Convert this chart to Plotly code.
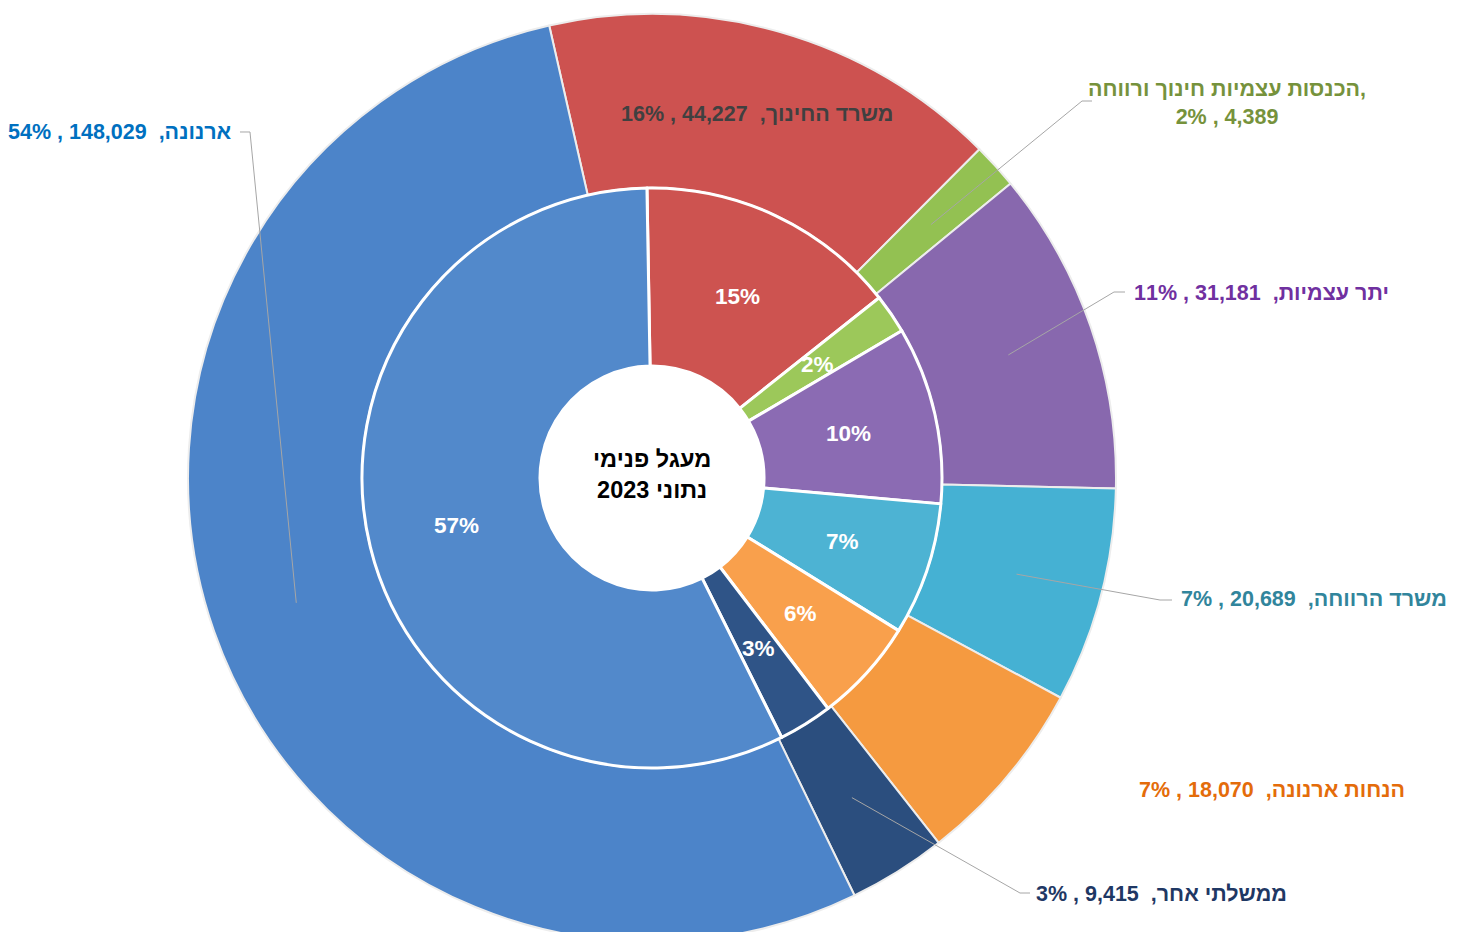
import math
import plotly.graph_objects as go

W, H = 1460, 940
OFF = 8  # page body margin: the figure is drawn 8px right/down of the window origin

# ---------------- data ----------------
outer_names = ["משרד החינוך", "הכנסות עצמיות חינוך ורווחה", "יתר עצמיות",
               "משרד הרווחה", "הנחות ארנונה", "ממשלתי אחר", "ארנונה"]
outer_values = [44227, 4389, 31181, 20689, 18070, 9415, 148029]

inner_names = outer_names
inner_pct = [14.6, 2.2, 9.9, 7.4, 5.8, 3.0, 57.1]

center_title = "מעגל פנימי<br>נתוני 2023"

# ---------------- styles ----------------
outer_colors = ["#CD5250", "#93C152", "#8868AE", "#45B1D3", "#F59A40", "#2B4E7E", "#4C84C9"]
inner_colors = ["#CD5350", "#9CC85A", "#8B6BB3", "#4DB3D3", "#F9A04C", "#2F5487", "#5289CB"]
label_colors = ["#404040", "#76923C", "#7030A0", "#31859C", "#E46C0A", "#1F3864", "#0070C0"]
FONT = "Liberation Sans, Arial, DejaVu Sans, sans-serif"

CX, CY = 652, 478          # pie centre (window px)
R_OUT = 464                 # outer ring radius (px)
R_IN = 290                  # inner pie radius (px)
R_HOLE = 112                # inner hole radius (px)
ROT_OUT = -12.8
ROT_IN = -1.0


def dom(r):
    cx, cy = CX - OFF, CY - OFF
    return dict(x=[(cx - r) / W, (cx + r) / W],
                y=[1 - (cy + r) / H, 1 - (cy - r) / H])


def px(x, y):
    return (x - OFF) / W, 1 - (y - OFF) / H


def mids(values, rot):
    tot = sum(values)
    out, acc = [], rot
    for v in values:
        span = v / tot * 360
        out.append(acc + span / 2)
        acc += span
    return out


def polar(angle_deg, r):
    a = math.radians(angle_deg)
    return CX + r * math.sin(a), CY - r * math.cos(a)


fig = go.Figure()

fig.add_trace(go.Pie(
    labels=outer_names, values=outer_values, sort=False, direction="clockwise",
    rotation=ROT_OUT, hole=R_IN / R_OUT, domain=dom(R_OUT),
    marker=dict(colors=outer_colors, line=dict(color="#EDEDED", width=2)),
    textinfo="none", showlegend=False, hoverinfo="label+value+percent",
))

fig.add_trace(go.Pie(
    labels=inner_names, values=inner_pct, sort=False, direction="clockwise",
    rotation=ROT_IN, hole=R_HOLE / R_IN, domain=dom(R_IN),
    marker=dict(colors=inner_colors, line=dict(color="white", width=3)),
    textinfo="none", showlegend=False, hoverinfo="label+percent",
))

annotations = []
shapes = []

# centre caption
cx_, cy_ = px(CX, CY - 4)
annotations.append(dict(
    x=cx_, y=cy_, xref="paper", yref="paper", text="<b>" + center_title + "</b>",
    showarrow=False, xanchor="center", yanchor="middle", align="center",
    font=dict(size=23.5, color="black", family=FONT),
))

# ---------------- inner percentage labels ----------------
in_tot = sum(inner_pct)
for ang, p in zip(mids(inner_pct, ROT_IN), inner_pct):
    x, y = polar(ang, (R_HOLE + R_IN) / 2)
    ax_, ay_ = px(x, y)
    annotations.append(dict(
        x=ax_, y=ay_, xref="paper", yref="paper",
        text=f"<b>{round(p / in_tot * 100)}%</b>", showarrow=False,
        xanchor="center", yanchor="middle",
        font=dict(size=22.5, color="white", family=FONT),
    ))

# ---------------- outer labels ----------------
total = sum(outer_values)
pcts = [round(v / total * 100) for v in outer_values]
out_mids = mids(outer_values, ROT_OUT)
R_MID = (R_IN + R_OUT) / 2

# label placement: (x, y, xanchor, elbow points)
placement = {
    1: (1227, 103, "center", [(1092, 101), (1082, 101)]),
    2: (1132, 293, "left", [(1125, 292), (1114, 292)]),
    3: (1179, 599, "left", [(1172, 600), (1160, 600)]),
    4: (1137, 790, "left", None),
    5: (1034, 894, "left", [(1030, 893), (1020, 893)]),
    6: (234, 132, "right", [(240, 132), (250, 132)]),
}

for i, name in enumerate(outer_names):
    if i == 0:
        x, y = polar(out_mids[0], R_MID + 2)
        xa, elbow = "center", None
        text = f"<b>{name},  {outer_values[i]:,} , {pcts[i]}%</b>"
    else:
        x, y, xa, elbow = placement[i]
        if i == 1:
            text = f"<b>{name},<br>{pcts[i]}% , {outer_values[i]:,}</b>"
        else:
            text = f"<b>{name},  {outer_values[i]:,} , {pcts[i]}%</b>"
    ax_, ay_ = px(x, y)
    annotations.append(dict(
        x=ax_, y=ay_, xref="paper", yref="paper", text=text, showarrow=False,
        xanchor=xa, yanchor="middle", align="center",
        font=dict(size=21.5, color=label_colors[i], family=FONT),
    ))
    if elbow:
        pts = elbow + [polar(out_mids[i], R_MID)]
        path = "M " + " L ".join(f"{px(a, b)[0]:.5f},{px(a, b)[1]:.5f}" for a, b in pts)
        shapes.append(dict(type="path", xref="paper", yref="paper", path=path,
                           line=dict(color="#A6A6A6", width=1)))

fig.update_layout(
    width=W, height=H,
    margin=dict(l=0, r=0, t=0, b=0),
    paper_bgcolor="white", plot_bgcolor="white",
    annotations=annotations, shapes=shapes,
    font=dict(family=FONT),
)

fig.write_html("out.html")
